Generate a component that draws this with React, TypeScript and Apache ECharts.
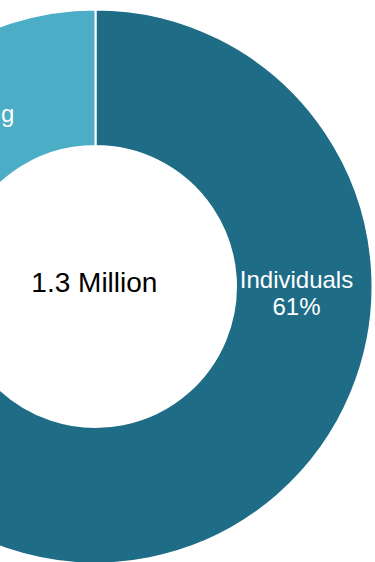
import React, { useEffect, useRef } from 'react';
import * as echarts from 'echarts';

const categories = ['Individuals', 'Foundations', 'Corporations', 'Funding'];
const values = [62.5, 10.5, 7, 20];
const shareLabels = ['61%', '10%', '7%', '20%'];
const colors = ['#1F6C87', '#2E8FAE', '#8FCFE0', '#4BADC6'];
const centerLabel = '1.3 Million';

export default function App() {
  const ref = useRef<HTMLDivElement>(null);
  useEffect(() => {
    document.body.style.margin = '0';
    const chart = echarts.init(ref.current!, null, { renderer: 'svg' });
    chart.setOption({
      animation: false,
      graphic: [
        {
          type: 'text',
          z: 10,
          style: {
            text: centerLabel,
            x: 94.4,
            y: 282.6,
            align: 'center',
            verticalAlign: 'middle',
            fontSize: 28,
            fontFamily: 'Liberation Sans, Arial, sans-serif',
            fill: '#000',
          },
        },
      ],
      series: [
        {
          type: 'pie',
          center: [95.5, 286.5],
          radius: [140.5, 277],
          startAngle: 90,
          clockwise: true,
          avoidLabelOverlap: false,
          itemStyle: { borderColor: '#fff', borderWidth: 2 },
          label: {
            show: true,
            position: 'inside',
            color: '#fff',
            fontSize: 24,
            fontFamily: 'Liberation Sans, Arial, sans-serif',
            lineHeight: 27,
            align: 'center',
            formatter: (p: any) => `${p.name}\n${shareLabels[p.dataIndex]}`,
          },
          labelLine: { show: false },
          labelLayout: (p: any) => {
            if (p.dataIndex === 0) return { x: 296.5, y: 293, align: 'center', verticalAlign: 'middle' };
            if (p.dataIndex === 3) return { x: -29, y: 127, align: 'center', verticalAlign: 'middle' };
            return {};
          },
          emphasis: { disabled: true },
          data: categories.map((name, i) => ({
            name,
            value: values[i],
            itemStyle: { color: colors[i] },
            label: { show: i === 0 || i === 3 },
          })),
        },
      ],
    });
    return () => chart.dispose();
  }, []);
  return <div ref={ref} style={{ width: 375, height: 562 }} />;
}
